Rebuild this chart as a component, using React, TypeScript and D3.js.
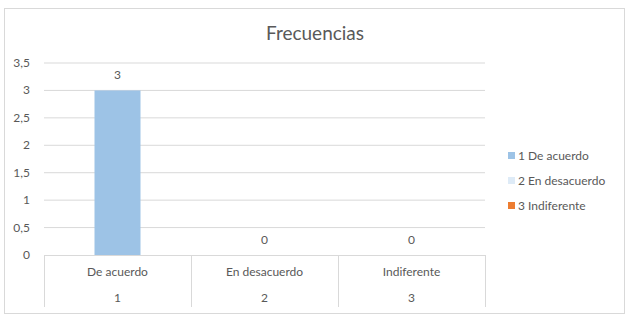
import React from "react";
import * as d3 from "d3";

const categories = ["De acuerdo", "En desacuerdo", "Indiferente"];
const codes = ["1", "2", "3"];
const values = [3, 0, 0];
const legendLabels = ["1 De acuerdo", "2 En desacuerdo", "3 Indiferente"];
const colors = ["#9DC3E6", "#DEEBF7", "#ED7D31"];
const yTicks = [0, 0.5, 1, 1.5, 2, 2.5, 3, 3.5];
const title = "Frecuencias";

const W = 629, H = 316;
const left = 44, right = 485, top = 63, bottom = 255;
const font = "Lato, 'Open Sans', sans-serif";
const textColor = "#595959";

export default function App() {
  const x = d3.scaleBand().domain(categories).range([left, right]).paddingInner(0).paddingOuter(0);
  const y = d3.scaleLinear().domain([0, 3.5]).range([bottom, top]);
  const barW = 46;
  const fmt = (v: number) => String(v).replace(".", ",");
  return (
    <svg width={W} height={H} style={{ position: "absolute", left: 0, top: 0, background: "#fff" }} fontFamily={font}>
      <rect x={4.5} y={8.5} width={620} height={305} fill="#fff" stroke="#D9D9D9" />
      <text x={315} y={40} textAnchor="middle" fontSize={19} fill={textColor}>{title}</text>
      {yTicks.map((t) => (
        <g key={t}>
          {t > 0 && <line x1={left} x2={right} y1={y(t)} y2={y(t)} stroke="#D9D9D9" />}
          <text x={30} y={y(t) + 4} textAnchor="end" fontSize={12} fill={textColor}>{fmt(t)}</text>
        </g>
      ))}
      {categories.map((c, i) => (
        <g key={c}>
          <rect x={x(c)! + x.bandwidth() / 2 - barW / 2} y={y(values[i])} width={barW} height={bottom - y(values[i])} fill={colors[i]} />
          <text x={x(c)! + x.bandwidth() / 2} y={y(values[i]) - 11} textAnchor="middle" fontSize={12} fill={textColor}>{values[i]}</text>
          <text x={x(c)! + x.bandwidth() / 2} y={276} textAnchor="middle" fontSize={12} fill={textColor}>{c}</text>
          <text x={x(c)! + x.bandwidth() / 2} y={302} textAnchor="middle" fontSize={12} fill={textColor}>{codes[i]}</text>
        </g>
      ))}
      <line x1={left} x2={right} y1={bottom + 0.5} y2={bottom + 0.5} stroke="#D9D9D9" />
      {[0, 1, 2, 3].map((k) => {
        const xv = Math.round(left + k * x.bandwidth()) + 0.5;
        return <line key={k} x1={xv} x2={xv} y1={bottom} y2={307} stroke="#D9D9D9" />;
      })}
      {legendLabels.map((l, i) => (
        <g key={l}>
          <rect x={508} y={152 + i * 25} width={7} height={7} fill={colors[i]} />
          <text x={518} y={160 + i * 25} fontSize={12} fill={textColor}>{l}</text>
        </g>
      ))}
    </svg>
  );
}
